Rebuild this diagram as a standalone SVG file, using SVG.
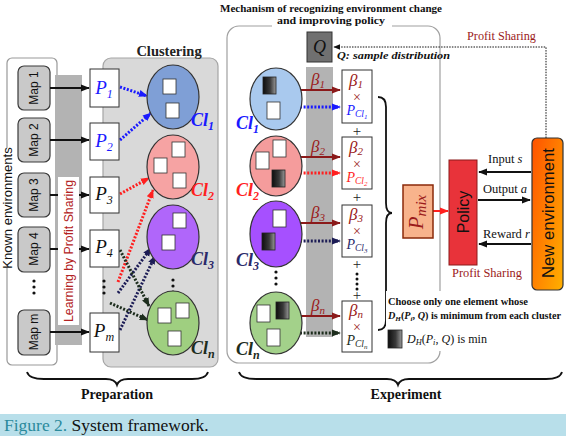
<svg xmlns="http://www.w3.org/2000/svg" width="569" height="436" viewBox="0 0 569 436">
<defs>
<style>
.sans{font-family:"Liberation Sans","DejaVu Sans",sans-serif}
.serif{font-family:"Liberation Serif","DejaVu Serif",serif}
.map{fill:#c9c9c9;stroke:#3a3a3a;stroke-width:1.2}
.pbox{fill:#fff;stroke:#333;stroke-width:1}
.sq{fill:#fff;stroke:#333;stroke-width:0.8}
.dsq{fill:url(#dg);stroke:#222;stroke-width:0.8}
.ell{stroke:#333;stroke-width:1.2}
.maptxt{font-family:"Liberation Sans","DejaVu Sans",sans-serif;font-size:12px;fill:#111;text-anchor:middle}
.pl{font-family:"Liberation Serif","DejaVu Serif",serif;font-style:italic;font-size:19px;text-anchor:middle}
.cl{font-family:"Liberation Serif","DejaVu Serif",serif;font-style:italic;font-weight:bold;font-size:18px}
.bt{font-family:"Liberation Serif","DejaVu Serif",serif;font-style:italic;font-size:17px;fill:#9b1b1b;text-anchor:middle}
.bx{font-family:"Liberation Serif","DejaVu Serif",serif;font-size:14px;fill:#9b1b1b;text-anchor:middle}
.pc{font-family:"Liberation Serif","DejaVu Serif",serif;font-style:italic;font-size:14px;text-anchor:middle}
.plus{font-family:"Liberation Serif","DejaVu Serif",serif;font-size:15px;fill:#222;text-anchor:middle}
.solid{fill:none;stroke:#111;stroke-width:2}
.dot{fill:none;stroke-width:3;stroke-dasharray:2 1.6}
.red2{fill:none;stroke:#8b1a1a;stroke-width:2}
.lbl{font-family:"Liberation Serif","DejaVu Serif",serif;font-size:12.5px;fill:#111}
.ps{font-family:"Liberation Serif","DejaVu Serif",serif;font-size:13px;fill:#9b1b1b}
.brace{fill:none;stroke:#111;stroke-width:1.8}
.head{font-family:"Liberation Serif","DejaVu Serif",serif;font-weight:bold;font-size:14px;fill:#111;text-anchor:middle}
</style>
<linearGradient id="dg" x1="0" x2="1" y1="0" y2="0"><stop offset="0" stop-color="#0d0d0d"/><stop offset="0.55" stop-color="#3a3a3a"/><stop offset="1" stop-color="#9a9a9a"/></linearGradient>
<linearGradient id="og" x1="0" y1="0" x2="1" y2="1"><stop offset="0" stop-color="#ff5200"/><stop offset="1" stop-color="#ffb000"/></linearGradient>
<marker id="ak" viewBox="0 0 10 10" refX="9" refY="5" markerWidth="9" markerHeight="9" markerUnits="userSpaceOnUse" orient="auto"><path d="M0,1 L10,5 L0,9 z" fill="#111"/></marker>
<marker id="ab" viewBox="0 0 10 10" refX="9" refY="5" markerWidth="9" markerHeight="9" markerUnits="userSpaceOnUse" orient="auto"><path d="M0,1 L10,5 L0,9 z" fill="#1a1aff"/></marker>
<marker id="ar" viewBox="0 0 10 10" refX="9" refY="5" markerWidth="9" markerHeight="9" markerUnits="userSpaceOnUse" orient="auto"><path d="M0,1 L10,5 L0,9 z" fill="#ff1f1f"/></marker>
<marker id="an" viewBox="0 0 10 10" refX="9" refY="5" markerWidth="9" markerHeight="9" markerUnits="userSpaceOnUse" orient="auto"><path d="M0,1 L10,5 L0,9 z" fill="#1c1c55"/></marker>
<marker id="ag" viewBox="0 0 10 10" refX="9" refY="5" markerWidth="9" markerHeight="9" markerUnits="userSpaceOnUse" orient="auto"><path d="M0,1 L10,5 L0,9 z" fill="#1d2d1d"/></marker>
<marker id="adr" viewBox="0 0 10 10" refX="9" refY="5" markerWidth="9" markerHeight="9" markerUnits="userSpaceOnUse" orient="auto"><path d="M0,1 L10,5 L0,9 z" fill="#8b1a1a"/></marker>
<marker id="ak2" viewBox="0 0 10 10" refX="9" refY="5" markerWidth="7" markerHeight="7" markerUnits="userSpaceOnUse" orient="auto"><path d="M0,1 L10,5 L0,9 z" fill="#111"/></marker>
</defs>
<rect width="569" height="436" fill="#fff"/>

<!-- Preparation background -->
<g id="known-env">
<rect x="7" y="58" width="50" height="307" rx="5" fill="#fff" stroke="#999" stroke-width="1.2"/>
<rect x="1" y="148" width="14" height="120" fill="#fff"/>
<text class="sans" font-size="13" fill="#111" text-anchor="middle" transform="translate(12,208) rotate(-90)">Known environments</text>
</g>
<g id="clustering">
<rect x="103" y="58" width="115" height="309" rx="8" fill="#d9d9d9" stroke="#a5a5a5" stroke-width="1.2"/>
<text class="serif" x="169" y="56" font-size="14.5" font-weight="bold" fill="#222" text-anchor="middle">Clustering</text>
</g>
<rect x="55" y="75" width="27" height="270" fill="#b3b3b3"/>

<g id="map1"><rect class="map" x="18" y="66" width="32" height="44" rx="6"/><text class="maptxt" transform="translate(38,88) rotate(-90)">Map 1</text></g>
<g id="map2"><rect class="map" x="18" y="118" width="32" height="44" rx="6"/><text class="maptxt" transform="translate(38,140) rotate(-90)">Map 2</text></g>
<g id="map3"><rect class="map" x="18" y="173" width="32" height="44" rx="6"/><text class="maptxt" transform="translate(38,195) rotate(-90)">Map 3</text></g>
<g id="map4"><rect class="map" x="18" y="227" width="32" height="45" rx="6"/><text class="maptxt" transform="translate(38,249) rotate(-90)">Map 4</text></g>
<g id="mapdots"><circle cx="34" cy="281" r="1.6" fill="#111"/><circle cx="34" cy="287" r="1.6" fill="#111"/><circle cx="34" cy="293" r="1.6" fill="#111"/></g>
<g id="mapm"><rect class="map" x="18" y="310" width="32" height="45" rx="6"/><text class="maptxt" transform="translate(38,332) rotate(-90)">Map m</text></g>

<!-- Experiment panel -->
<g id="experiment-panel">
<rect x="227" y="26" width="213" height="337" rx="12" fill="#fff" stroke="#a0a0a0" stroke-width="1.2"/>
<rect x="272" y="15" width="120" height="14" fill="#fff"/>
<text class="serif" x="331" y="12" font-size="10.5" font-weight="bold" fill="#111" text-anchor="middle" textLength="222" lengthAdjust="spacingAndGlyphs">Mechanism of recognizing environment change</text>
<text class="serif" x="331" y="24" font-size="10.5" font-weight="bold" fill="#111" text-anchor="middle" textLength="108" lengthAdjust="spacingAndGlyphs">and improving policy</text>
</g>
<rect x="306" y="67" width="27" height="270" fill="#b3b3b3"/>

<!-- Connectors -->
<g id="connectors">
<line class="solid" x1="50" y1="88" x2="89" y2="88" marker-end="url(#ak)"/>
<line class="solid" x1="50" y1="140" x2="89" y2="140" marker-end="url(#ak)"/>
<line class="solid" x1="50" y1="195" x2="89" y2="195" marker-end="url(#ak)"/>
<line class="solid" x1="50" y1="249" x2="89" y2="249" marker-end="url(#ak)"/>
<line class="solid" x1="50" y1="332" x2="89" y2="332" marker-end="url(#ak)"/>

<line class="dot" stroke="#1a1aff" x1="120" y1="87" x2="147" y2="96" marker-end="url(#ab)"/>
<line class="dot" stroke="#1a1aff" x1="120" y1="140" x2="151" y2="113" marker-end="url(#ab)"/>
<line class="dot" stroke="#ff1f1f" x1="120" y1="194" x2="149" y2="178" marker-end="url(#ar)"/>
<line class="dot" stroke="#ff1f1f" x1="118" y1="282" x2="153" y2="190" marker-end="url(#ar)"/>
<line class="dot" stroke="#1c1c55" x1="118" y1="293" x2="151" y2="248" marker-end="url(#an)"/>
<line class="dot" stroke="#1c1c55" x1="120" y1="330" x2="155" y2="256" marker-end="url(#an)"/>
<line class="dot" stroke="#1d2d1d" x1="120" y1="250" x2="149" y2="306" marker-end="url(#ag)"/>
<line class="dot" stroke="#1d2d1d" x1="110" y1="303" x2="148" y2="320" marker-end="url(#ag)"/>

<line class="red2" x1="301" y1="90" x2="340" y2="90" marker-end="url(#adr)"/>
<line class="dot" stroke="#1a1aff" x1="300" y1="107" x2="340" y2="107" marker-end="url(#ab)"/>
<line class="red2" x1="301" y1="157" x2="340" y2="157" marker-end="url(#adr)"/>
<line class="dot" stroke="#ff1f1f" x1="300" y1="173" x2="340" y2="173" marker-end="url(#ar)"/>
<line class="red2" x1="301" y1="223" x2="340" y2="223" marker-end="url(#adr)"/>
<line class="dot" stroke="#1c1c55" x1="300" y1="241" x2="340" y2="241" marker-end="url(#an)"/>
<line class="red2" x1="301" y1="316" x2="340" y2="316" marker-end="url(#adr)"/>
<line class="dot" stroke="#1d2d1d" x1="300" y1="333" x2="340" y2="333" marker-end="url(#ag)"/>

<path d="M546,138 V47 H334" fill="none" stroke="#111" stroke-width="1" stroke-dasharray="1.5 1.2" marker-end="url(#ak2)"/>
<line x1="433" y1="211" x2="448" y2="211" stroke="#ff1f1f" stroke-width="2" marker-end="url(#ar)"/>
<line class="solid" x1="531" y1="172" x2="479" y2="172" marker-end="url(#ak)"/>
<line class="solid" x1="478" y1="200" x2="530" y2="200" marker-end="url(#ak)"/>
<line class="solid" x1="531" y1="244" x2="479" y2="244" marker-end="url(#ak)"/>
</g>

<g id="lps-box">
<rect x="58" y="177" width="21" height="148" fill="#fff"/>
<text class="sans" font-size="12" fill="#b22222" text-anchor="middle" transform="translate(73,251) rotate(-90)" textLength="142" lengthAdjust="spacingAndGlyphs">Learning by Profit Sharing</text>
</g>

<!-- P boxes -->
<g id="p1"><rect class="pbox" x="90" y="69" width="29" height="38"/><text class="pl" x="104" y="94" fill="#1a1aff">P<tspan font-size="12" dy="4">1</tspan></text></g>
<g id="p2"><rect class="pbox" x="90" y="123" width="29" height="37"/><text class="pl" x="104" y="147" fill="#1a1aff">P<tspan font-size="12" dy="4">2</tspan></text></g>
<g id="p3"><rect class="pbox" x="90" y="177" width="29" height="36"/><text class="pl" x="104" y="200" fill="#111">P<tspan font-size="12" dy="4">3</tspan></text></g>
<g id="p4"><rect class="pbox" x="90" y="230" width="29" height="37"/><text class="pl" x="104" y="253" fill="#111">P<tspan font-size="12" dy="4">4</tspan></text></g>
<g id="pdots"><circle cx="104" cy="281" r="1.6" fill="#111"/><circle cx="104" cy="287" r="1.6" fill="#111"/><circle cx="104" cy="293" r="1.6" fill="#111"/></g>
<g id="pm"><rect class="pbox" x="90" y="313" width="29" height="39"/><text class="pl" x="104" y="337" fill="#111">P<tspan font-size="12" dy="4">m</tspan></text></g>

<!-- Clusters (preparation) -->
<g id="c-cl1"><ellipse class="ell" cx="173" cy="97" rx="26" ry="32" fill="#7f9fd6"/>
<rect class="sq" x="163" y="79" width="13" height="15"/><rect class="sq" x="166" y="103" width="13" height="15"/>
<text class="cl" x="191" y="126" fill="#1a1aff">Cl<tspan font-size="12" dy="4">1</tspan></text></g>
<g id="c-cl2"><ellipse class="ell" cx="173" cy="167" rx="26" ry="32" fill="#f6a3a3"/>
<rect class="sq" x="172" y="142" width="13" height="15"/><rect class="sq" x="154" y="158" width="13" height="15"/><rect class="sq" x="173" y="173" width="13" height="15"/>
<text class="cl" x="191" y="196" fill="#ff1f1f">Cl<tspan font-size="12" dy="4">2</tspan></text></g>
<g id="c-cl3"><ellipse class="ell" cx="173" cy="237" rx="26" ry="32" fill="#b066fa"/>
<rect class="sq" x="173" y="213" width="13" height="15"/><rect class="sq" x="162" y="235" width="13" height="15"/>
<text class="cl" x="191" y="265" fill="#2a2a6a">Cl<tspan font-size="12" dy="4">3</tspan></text></g>
<g id="c-cldots"><circle cx="173" cy="280" r="1.6" fill="#111"/><circle cx="173" cy="286" r="1.6" fill="#111"/><circle cx="173" cy="292" r="1.6" fill="#111"/></g>
<g id="c-cln"><ellipse class="ell" cx="173" cy="323" rx="26" ry="32" fill="#9fcf80"/>
<rect class="sq" x="158" y="308" width="13" height="15"/><rect class="sq" x="176" y="303" width="13" height="15"/><rect class="sq" x="168" y="331" width="13" height="15"/>
<text class="cl" x="191" y="354" fill="#1d2d1d">Cl<tspan font-size="12" dy="4">n</tspan></text></g>

<!-- Q -->
<g id="q"><rect x="307" y="32" width="25" height="30" fill="#707070" stroke="#333" stroke-width="1"/>
<text class="serif" x="319.5" y="53" font-size="18" font-style="italic" fill="#111" text-anchor="middle">Q</text></g>
<text class="serif" x="337" y="59" font-size="11" font-style="italic" font-weight="bold" fill="#111" textLength="113" lengthAdjust="spacingAndGlyphs">Q: sample distribution</text>
<text class="ps" x="467" y="40" textLength="69" lengthAdjust="spacingAndGlyphs">Profit Sharing</text>

<!-- Experiment clusters -->
<g id="e-cl1"><ellipse class="ell" cx="276" cy="99" rx="26" ry="31" fill="#a9c9ee"/>
<rect class="dsq" x="263" y="77" width="13" height="17"/><rect class="sq" x="267" y="102" width="13" height="17"/>
<text class="cl" x="236" y="129" fill="#1a1aff">Cl<tspan font-size="12" dy="4">1</tspan></text></g>
<g id="e-cl2"><ellipse class="ell" cx="276" cy="166" rx="26" ry="30" fill="#f59c9c"/>
<rect class="sq" x="273" y="140" width="13" height="17"/><rect class="sq" x="256" y="152" width="13" height="17"/><rect class="dsq" x="272" y="170" width="13" height="17"/>
<text class="cl" x="236" y="196" fill="#ff1f1f">Cl<tspan font-size="12" dy="4">2</tspan></text></g>
<g id="e-cl3"><ellipse class="ell" cx="276" cy="234" rx="26" ry="33" fill="#a650ff"/>
<rect class="sq" x="273" y="210" width="13" height="17"/><rect class="dsq" x="262" y="233" width="13" height="17"/>
<text class="cl" x="236" y="266" fill="#2a2a6a">Cl<tspan font-size="12" dy="4">3</tspan></text></g>
<g id="e-cldots"><circle cx="276" cy="272" r="1.6" fill="#111"/><circle cx="276" cy="278" r="1.6" fill="#111"/><circle cx="276" cy="284" r="1.6" fill="#111"/></g>
<g id="e-cln"><ellipse class="ell" cx="276" cy="323" rx="26" ry="31" fill="#a3d18a"/>
<rect class="sq" x="257" y="305" width="13" height="17"/><rect class="dsq" x="276" y="302" width="13" height="17"/><rect class="sq" x="267" y="329" width="13" height="17"/>
<text class="cl" x="236" y="355" fill="#1d2d1d">Cl<tspan font-size="12" dy="4">n</tspan></text></g>

<!-- beta labels -->
<text class="bt" x="318" y="85">β<tspan font-size="11" dy="3">1</tspan></text>
<text class="bt" x="318" y="152">β<tspan font-size="11" dy="3">2</tspan></text>
<text class="bt" x="318" y="218">β<tspan font-size="11" dy="3">3</tspan></text>
<text class="bt" x="318" y="311">β<tspan font-size="11" dy="3">n</tspan></text>

<!-- weighted boxes -->
<g id="w1"><rect class="pbox" x="342" y="70" width="30" height="53"/>
<text class="bt" x="356" y="86">β<tspan font-size="11" dy="2">1</tspan></text><text class="bx" x="357" y="102">×</text>
<text class="pc" x="357" y="115" fill="#1a1aff">P<tspan font-size="9.5" dy="2">Cl</tspan><tspan font-size="7" dy="2">1</tspan></text></g>
<g id="w2"><rect class="pbox" x="342" y="137" width="30" height="52"/>
<text class="bt" x="356" y="153">β<tspan font-size="11" dy="2">2</tspan></text><text class="bx" x="357" y="169">×</text>
<text class="pc" x="357" y="182" fill="#ff1f1f">P<tspan font-size="9.5" dy="2">Cl</tspan><tspan font-size="7" dy="2">2</tspan></text></g>
<g id="w3"><rect class="pbox" x="342" y="205" width="30" height="52"/>
<text class="bt" x="356" y="220">β<tspan font-size="11" dy="2">3</tspan></text><text class="bx" x="357" y="236">×</text>
<text class="pc" x="357" y="249" fill="#2a2a6a">P<tspan font-size="9.5" dy="2">Cl</tspan><tspan font-size="7" dy="2">3</tspan></text></g>
<g id="wn"><rect class="pbox" x="342" y="301" width="30" height="51"/>
<text class="bt" x="356" y="316">β<tspan font-size="11" dy="2">n</tspan></text><text class="bx" x="357" y="332">×</text>
<text class="pc" x="357" y="345" fill="#1d2d1d">P<tspan font-size="9.5" dy="2">Cl</tspan><tspan font-size="7" dy="2">n</tspan></text></g>
<text class="plus" x="357" y="136">+</text>
<text class="plus" x="357" y="202">+</text>
<text class="plus" x="357" y="269">+</text>
<circle cx="357" cy="274" r="1.5" fill="#111"/><circle cx="357" cy="279" r="1.5" fill="#111"/><circle cx="357" cy="284" r="1.5" fill="#111"/><circle cx="357" cy="289" r="1.5" fill="#111"/>
<text class="plus" x="357" y="300">+</text>

<path class="brace" d="M378,97 Q386,97 386,107 L386,203 Q386,213 392,213 Q386,213 386,223 L386,320 Q386,330 378,330"/>

<!-- Pmix, Policy, New env -->
<g id="pmix"><rect x="403" y="185" width="30" height="53" fill="#f8b38c" stroke="#8b2a0a" stroke-width="1.5"/>
<text class="serif" font-size="21" font-style="italic" fill="#9b1b1b" text-anchor="middle" transform="translate(423,212) rotate(-90)">P<tspan font-size="15" dy="3">mix</tspan></text></g>
<g id="policy"><rect x="449" y="160" width="28" height="105" fill="#e8333a" stroke="#8b1a1a" stroke-width="1"/>
<text class="sans" font-size="16" fill="#111" text-anchor="middle" transform="translate(469,212) rotate(-90)">Policy</text></g>
<text class="ps" x="452" y="277" textLength="70" lengthAdjust="spacingAndGlyphs">Profit Sharing</text>
<g id="new-env"><rect x="532" y="138" width="31" height="152" rx="5" fill="url(#og)" stroke="#333" stroke-width="1.2"/>
<text class="sans" font-size="17" fill="#111" text-anchor="middle" transform="translate(554,213) rotate(-90)" textLength="130" lengthAdjust="spacingAndGlyphs">New environment</text></g>

<text class="lbl" x="488" y="163">Input <tspan font-style="italic">s</tspan></text>
<text class="lbl" x="483" y="193">Output <tspan font-style="italic">a</tspan></text>
<text class="lbl" x="483" y="238">Reward <tspan font-style="italic">r</tspan></text>

<!-- note -->
<rect x="386" y="291" width="177" height="60" fill="#fff"/>
<text class="serif" x="388" y="305" font-size="10" font-weight="bold" fill="#111" textLength="140" lengthAdjust="spacingAndGlyphs">Choose only one element whose</text>
<text class="serif" x="388" y="319" font-size="10" font-weight="bold" fill="#111" textLength="173" lengthAdjust="spacingAndGlyphs"><tspan font-style="italic">D<tspan font-size="7" dy="2">H</tspan></tspan><tspan dy="-2">(</tspan><tspan font-style="italic">P<tspan font-size="7" dy="2">i</tspan></tspan><tspan dy="-2">, </tspan><tspan font-style="italic">Q</tspan>) is minimum from each cluster</text>
<rect class="dsq" x="388" y="330" width="14" height="18"/>
<text class="serif" x="407" y="343" font-size="13" fill="#111" textLength="80" lengthAdjust="spacingAndGlyphs"><tspan font-style="italic">D<tspan font-size="9" dy="2">H</tspan></tspan><tspan dy="-2">(</tspan><tspan font-style="italic">P<tspan font-size="9" dy="2">i</tspan></tspan><tspan dy="-2">, </tspan><tspan font-style="italic">Q</tspan>) is min</text>

<!-- braces and section labels -->
<path class="brace" d="M27,372 Q29,379 44,379 L106,379 Q115,379 117,385 Q119,379 128,379 L192,379 Q206,379 208,372"/>
<text class="head" x="117" y="399">Preparation</text>
<path class="brace" d="M239,372 Q241,379 256,379 L387,379 Q396,379 398,385 Q400,379 409,379 L546,379 Q560,379 562,372"/>
<text class="head" x="406" y="399">Experiment</text>

<!-- caption -->
<rect x="0" y="414" width="566" height="22" fill="#b8dfea"/>
<text class="serif" x="4" y="431" font-size="17.5" fill="#111"><tspan fill="#2b8a9c">Figure 2.</tspan> System framework.</text>
</svg>
